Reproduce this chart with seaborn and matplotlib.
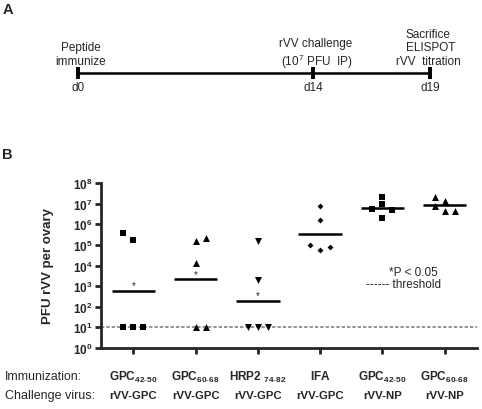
import numpy as np
import pandas as pd
import seaborn as sns
import matplotlib
matplotlib.use("Agg")
import matplotlib.pyplot as plt
from matplotlib import transforms

# ---------------- data ----------------
groups = ["g0", "g1", "g2", "g3", "g4", "g5"]
immunization = [r"$\mathbf{GPC}_{\mathbf{42}\text{-}\mathbf{50}}$",
                r"$\mathbf{GPC}_{\mathbf{60}\text{-}\mathbf{68}}$",
                r"$\mathbf{HRP2\ }_{\mathbf{74}\text{-}\mathbf{82}}$",
                r"$\mathbf{IFA}$",
                r"$\mathbf{GPC}_{\mathbf{42}\text{-}\mathbf{50}}$",
                r"$\mathbf{GPC}_{\mathbf{60}\text{-}\mathbf{68}}$"]
challenge = ["rVV-GPC", "rVV-GPC", "rVV-GPC", "rVV-GPC", "rVV-NP", "rVV-NP"]
markers = ["s", "^", "v", "D", "s", "^"]
significant = [True, True, True, False, False, False]

g0_values = [10, 10, 10, 3.8e5, 1.8e5]
g1_values = [10, 10, 1.3e4, 1.6e5, 2.2e5]
g2_values = [10, 10, 10, 2.0e3, 1.5e5]
g3_values = [7.6e6, 1.6e6, 1.0e5, 5.9e4, 7.9e4]
g4_values = [2.1e7, 5.6e6, 9.1e6, 5.1e6, 2.0e6]
g5_values = [2.1e7, 1.4e7, 7.6e6, 4.4e6, 4.4e6]
all_values = [g0_values, g1_values, g2_values, g3_values, g4_values, g5_values]

# jitter slot of each point inside its column (-1 left, 0 centre, 1 right)
g0_slots = [-1, 0, 1, -1, 0]
g1_slots = [0, 1, 0, 0, 1]
g2_slots = [-1, 0, 1, 0, 0]
g3_slots = [0, 0, -1, 0, 1]
g4_slots = [0, -1, 0, 1, 0]
g5_slots = [-1, 0, -1, 0, 1]
all_slots = [g0_slots, g1_slots, g2_slots, g3_slots, g4_slots, g5_slots]

threshold = 10
ytick_exps = list(range(0, 9))

# ---------------- style ----------------
sns.set_style("ticks")
plt.rcParams["font.family"] = ["Liberation Sans", "DejaVu Sans"]
plt.rcParams["mathtext.fontset"] = "custom"
plt.rcParams["mathtext.rm"] = "Liberation Sans"
plt.rcParams["mathtext.bf"] = "Liberation Sans:bold"
plt.rcParams["mathtext.it"] = "Liberation Sans:italic"

W, H = 482, 410
fig = plt.figure(figsize=(W / 100, H / 100), dpi=100)

# main axes (panel B)
ax_l, ax_r, ax_t, ax_b = 101, 477, 184, 349
ax = fig.add_axes([ax_l / W, 1 - ax_b / H, (ax_r - ax_l) / W, (ax_b - ax_t) / H])

jit = 0.16
rows = []
for gi, (vals, slots) in enumerate(zip(all_values, all_slots)):
    for v, s in zip(vals, slots):
        rows.append({"group": gi, "x": gi + s * jit, "value": v, "marker": markers[gi]})
df = pd.DataFrame(rows)

sizes = {"s": 20, "^": 25, "v": 25, "D": 9}
for gi in range(len(groups)):
    sub = df[df["group"] == gi]
    sns.scatterplot(data=sub, x="x", y="value", marker=markers[gi], color="black",
                    s=sizes[markers[gi]], linewidth=0, ax=ax, zorder=4)
    gmean = 10 ** np.mean(np.log10(sub["value"].values))
    ax.hlines(gmean, gi - 0.35, gi + 0.35, color="black", lw=1.8, zorder=3)
    if significant[gi]:
        ax.annotate("*", (gi, gmean), xytext=(0, 0.5), textcoords="offset points",
                    ha="center", va="bottom", fontsize=7)

ax.axhline(threshold, color="#777777", lw=1.1, ls=(0, (2.2, 1.3)), zorder=2)

ax.set_yscale("log")
ax.set_ylim(1, 1e8)
ax.set_xlim(-0.52, 5.52)
ax.set_yticks([10.0 ** e for e in ytick_exps])
ax.set_yticklabels([r"$\mathbf{10^{%d}}$" % e for e in ytick_exps], fontsize=8.5)
ax.yaxis.set_minor_locator(matplotlib.ticker.NullLocator())
ax.set_xticks(range(len(groups)))
ax.set_xticklabels([])
ax.set_xlabel("")
ax.set_ylabel("PFU rVV per ovary", fontsize=9.5, fontweight="bold", labelpad=14)
for sp in ["top", "right"]:
    ax.spines[sp].set_visible(False)
for sp in ["left", "bottom"]:
    ax.spines[sp].set_linewidth(2.0)
ax.tick_params(axis="y", length=4.5, width=2.0, pad=1.5)
ax.tick_params(axis="x", length=4, width=2.0)

# category label rows
tr = transforms.blended_transform_factory(ax.transData, fig.transFigure)
for gi in range(len(groups)):
    ax.text(gi, 1 - 377 / H, immunization[gi], transform=tr, ha="center", va="center",
            fontsize=8.5)
    ax.text(gi, 1 - 396 / H, challenge[gi], transform=tr, ha="center", va="center",
            fontsize=8.2, fontweight="bold")

# overlay in pixel coordinates for annotations
ov = fig.add_axes([0, 0, 1, 1], facecolor="none")
ov.set_xlim(0, W)
ov.set_ylim(H, 0)
ov.axis("off")

ov.text(5, 377, "Immunization:", ha="left", va="center", fontsize=8.8)
ov.text(5, 396, "Challenge virus:", ha="left", va="center", fontsize=9.0)

ov.text(389, 273, "*P < 0.05", ha="left", va="center", fontsize=8.5)
ov.text(366, 285, "------ threshold", ha="left", va="center", fontsize=8.5)

ov.text(3, 10, "A", ha="left", va="center", fontsize=10.5, fontweight="bold")
ov.text(2, 155, "B", ha="left", va="center", fontsize=10.5, fontweight="bold")

# panel A timeline
tl_days = ["d0", "d14", "d19"]
tl_x = [78, 313, 430]
ov.plot([tl_x[0], tl_x[-1]], [74, 74], color="black", lw=1.8)
for x, d in zip(tl_x, tl_days):
    ov.plot([x, x], [68, 80], color="black", lw=2.8, solid_capstyle="butt")
    ov.text(x, 88, d, ha="center", va="center", fontsize=8.5)
fs = 8.5
ov.text(81, 48, "Peptide", ha="center", va="center", fontsize=fs)
ov.text(81, 62, "immunize", ha="center", va="center", fontsize=fs)
ov.text(316, 44, "rVV challenge", ha="center", va="center", fontsize=fs)
ov.text(317, 62, r"(10$^{7}$ PFU  IP)", ha="center", va="center", fontsize=fs)
ov.text(428, 35, "Sacrifice", ha="center", va="center", fontsize=fs)
ov.text(431, 48, "ELISPOT", ha="center", va="center", fontsize=fs)
ov.text(428, 62, "rVV  titration", ha="center", va="center", fontsize=fs)

fig.savefig("out.png", dpi=100)
